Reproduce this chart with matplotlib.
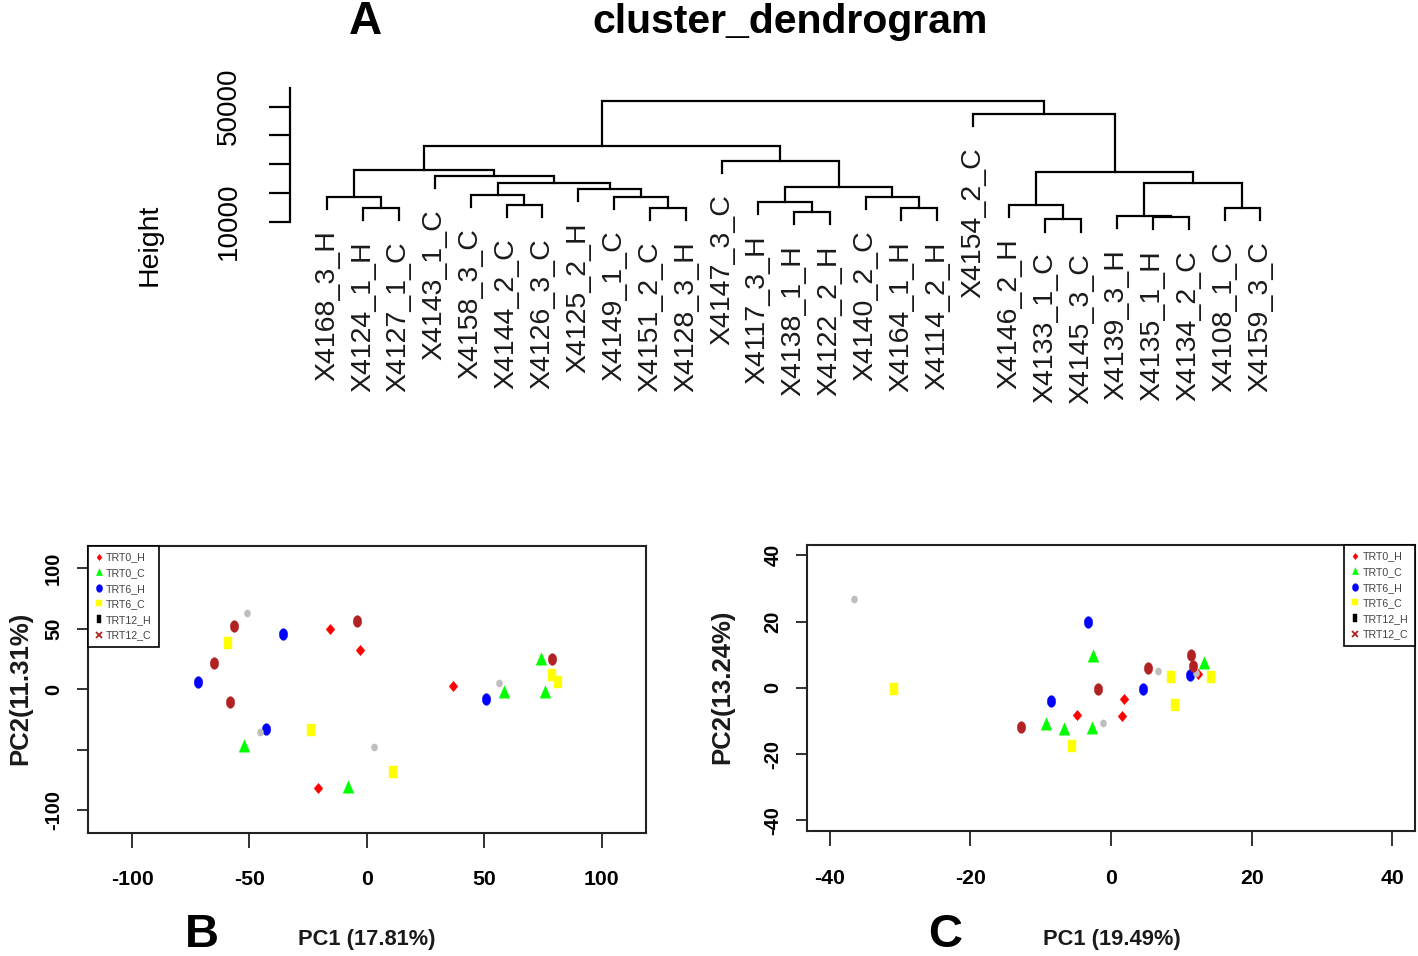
import numpy as np
import matplotlib
matplotlib.use('Agg')
import matplotlib.pyplot as plt
from matplotlib import font_manager as fm
from matplotlib.path import Path
from matplotlib.lines import Line2D
from matplotlib.transforms import offset_copy

# ---------------- dendrogram data ----------------
leaf_labels = ["X4168_3_H", "X4124_1_H", "X4127_1_C", "X4143_1_C", "X4158_3_C",
               "X4144_2_C", "X4126_3_C", "X4125_2_H", "X4149_1_C", "X4151_2_C",
               "X4128_3_H", "X4147_3_C", "X4117_3_H", "X4138_1_H", "X4122_2_H",
               "X4140_2_C", "X4164_1_H", "X4114_2_H", "X4154_2_C", "X4146_2_H",
               "X4133_1_C", "X4145_3_C", "X4139_3_H", "X4135_1_H", "X4134_2_C",
               "X4108_1_C", "X4159_3_C"]
# R hclust-style merges: negative = leaf (1-based position), positive = earlier merge
merge_left = [-2, -6, -10, -14, -17, -21, -24, -23, -26,
              -1, -5, -9, -8, 11, -4, 10,
              -13, -16, 17, -12, 16,
              -20, 8, 22, -19, 21]
merge_right = [-3, -7, -11, -15, -18, -22, -25, 7, -27,
               1, 2, 3, 12, 13, 14, 15,
               4, 5, 18, 19, 20,
               6, 9, 23, 24, 25]
merge_height = [14765, 15808, 14765, 13374, 14765, 10835, 11739, 12087, 14765,
                18591, 19287, 18591, 21373, 23460, 25895, 27981,
                16852, 18591, 21964, 31111, 36328,
                15808, 23460, 27390, 47458, 51980]
hang_height = 4300
height_ticks = [10000, 20000, 30000, 40000, 50000]
height_ticklabels = ["10000", "", "", "", "50000"]

# ---------------- PCA data ----------------
groups = ["TRT0_H", "TRT0_C", "TRT6_H", "TRT6_C", "TRT12_H", "TRT12_C"]

b_trt0_h_x = [-15.7, -2.8, -20.7, 36.7]
b_trt0_h_y = [49.7, 32.8, -81.6, 2.7]
b_trt0_c_x = [-52.2, -8.2, 58.5, 74.0, 76.0]
b_trt0_c_y = [-47.0, -80.8, -2.0, 24.9, -2.2]
b_trt6_h_x = [-35.8, -72.0, -42.8, 50.6]
b_trt6_h_y = [45.9, 6.3, -32.7, -8.0]
b_trt6_c_x = [-59.1, -24.0, 11.0, 78.8, 81.5]
b_trt6_c_y = [38.6, -34.0, -68.3, 11.9, 6.3]
b_trt12_h_x = [-50.9, -45.4, 2.9, 56.3]
b_trt12_h_y = [63.0, -35.4, -47.6, 5.5]
b_trt12_c_x = [-56.6, -4.2, -65.2, -58.5, 79.0]
b_trt12_c_y = [52.5, 56.6, 22.1, -10.8, 24.9]

c_trt0_h_x = [-4.8, 1.8, 1.5, 12.3]
c_trt0_h_y = [-8.2, -3.4, -8.5, 4.3]
c_trt0_c_x = [-2.6, -9.3, -6.7, -2.7, 13.2]
c_trt0_c_y = [9.6, -10.9, -12.5, -12.1, 7.4]
c_trt6_h_x = [-3.3, -8.6, 4.5, 11.2]
c_trt6_h_y = [19.8, -4.0, -0.3, 3.9]
c_trt6_c_x = [-30.9, -5.5, 8.5, 9.1, 14.2]
c_trt6_c_y = [-0.3, -17.5, 3.2, -5.2, 3.2]
c_trt12_h_x = [-36.6, -1.1, 6.7, 12.1]
c_trt12_h_y = [26.9, -10.7, 5.1, 4.6]
c_trt12_c_x = [-1.8, -12.8, 5.3, 11.3, 11.6]
c_trt12_c_y = [-0.2, -11.7, 6.1, 9.8, 6.5]

b_ticks = [-100, -50, 0, 50, 100]
b_yticklabels = ["-100", "", "0", "50", "100"]
c_ticks = [-40, -20, 0, 20, 40]
c_yticklabels = ["-40", "-20", "0", "20", "40"]

# ---------------- figure ----------------
W, H = 1418, 956
fig = plt.figure(figsize=(W / 100, H / 100), dpi=100)
fig.patch.set_facecolor('white')


def fx(px):
    return px / W


def fy(py):
    return 1 - py / H


names = {f.name for f in fm.fontManager.ttflist}
SANS = 'Liberation Sans' if 'Liberation Sans' in names else 'DejaVu Sans'
NARROW = 'Liberation Sans Narrow' if 'Liberation Sans Narrow' in names else SANS
NS = 1.0 if NARROW != SANS else 0.9

# ---------- dendrogram ----------
axd = fig.add_axes([fx(290), fy(240), (1300 - 290) / W, (240 - 60) / H])
axd.set_xlim((290 - 327) / 35.9, (1300 - 327) / 35.9)
axd.set_ylim(3635, 66240)
axd.patch.set_alpha(0)

node_x, node_h, leaf_bottom = {}, {}, {}
for i in range(len(leaf_labels)):
    node_x[-(i + 1)] = float(i)
for k, (l, r, h) in enumerate(zip(merge_left, merge_right, merge_height), start=1):
    xs, bs = [], []
    for c in (l, r):
        xs.append(node_x[c])
        if c < 0:
            b = h - hang_height
            leaf_bottom[-c - 1] = b
        else:
            b = node_h[c]
        bs.append(b)
    axd.plot([xs[0], xs[0], xs[1], xs[1]], [bs[0], h, h, bs[1]],
             color='black', lw=1.6, solid_joinstyle='miter', clip_on=False)
    node_x[k] = (xs[0] + xs[1]) / 2
    node_h[k] = h

lab_trans = offset_copy(axd.transData, fig=fig, x=0, y=-21, units='dots')
for i, lab in enumerate(leaf_labels):
    axd.text(i, leaf_bottom[i], lab, rotation=90, ha='center', va='top',
             transform=lab_trans, fontsize=20.5, family=SANS, color='#1a1a1a',
             clip_on=False)

for s in ['top', 'right', 'bottom']:
    axd.spines[s].set_visible(False)
axd.spines['left'].set_bounds(10000, 56400)
axd.spines['left'].set_linewidth(1.6)
axd.set_xticks([])
axd.set_yticks(height_ticks)
axd.set_yticklabels(height_ticklabels, rotation=90, va='center', fontsize=20,
                    family=SANS)
axd.tick_params(axis='y', length=15, width=1.6, pad=20)

fig.text(fx(150), fy(245), 'Height', rotation=90, ha='center', va='center',
         fontsize=20.5, family=SANS)
fig.text(fx(790), fy(22), 'cluster_dendrogram', ha='center', va='center',
         fontsize=29.5, weight='bold', family=SANS)
fig.text(fx(365), fy(22), 'A', ha='center', va='center', fontsize=33,
         weight='bold', family=SANS)


# ---------- markers ----------
def ellipse(rx):
    t = np.linspace(0, 2 * np.pi, 48)
    return Path(np.column_stack([rx * np.cos(t), np.sin(t)]), closed=True)


def rect(hw):
    return Path([(-hw, -1), (hw, -1), (hw, 1), (-hw, 1), (-hw, -1)], closed=True)


def diamond(hw):
    return Path([(0, -1), (hw, 0), (0, 1), (-hw, 0), (0, -1)], closed=True)


tri = Path([(-0.8, -0.85), (0.8, -0.85), (0, 1), (-0.8, -0.85)], closed=True)

colors = ['#FF0000', '#00FF00', '#0000FF', '#FFFF00', '#BEBEBE', '#B22222']
markers = [diamond(0.85), tri, ellipse(0.72), rect(0.66), ellipse(0.85), ellipse(0.72)]
msizes = [7.4, 9.6, 8.4, 9.2, 5.2, 8.4]

leg_colors = ['#FF0000', '#00FF00', '#0000FF', '#FFFF00', 'black', '#B22222']
leg_markers = [diamond(0.8), tri, ellipse(0.8), rect(0.8), rect(0.6), 'x']
leg_sizes = [4.5, 5.5, 5.5, 5.0, 5.5, 5.0]


def panel(rect_px, lim, ticks, ylabels, xs_list, ys_list, loc,
          xlab, xlab_pos, ylab, ylab_pos, letter, letter_pos):
    l, t, r, b = rect_px
    ax = fig.add_axes([fx(l), fy(b), (r - l) / W, (b - t) / H])
    for xs, ys, c, m, s in zip(xs_list, ys_list, colors, markers, msizes):
        ax.plot(xs, ys, linestyle='none', marker=m, markersize=s,
                markerfacecolor=c, markeredgecolor=c, markeredgewidth=0.3)
    pad = lim * 0.08
    ax.set_xlim(-lim - pad, lim + pad)
    ax.set_ylim(-lim - pad, lim + pad)
    for sp in ax.spines.values():
        sp.set_linewidth(1.5)
        sp.set_color('#222222')
    ax.set_xticks(ticks)
    ax.set_xticklabels([str(v) for v in ticks], fontsize=17 * NS,
                       family=NARROW, weight='bold')
    ax.set_yticks(ticks)
    ax.set_yticklabels(ylabels, rotation=90, va='center', fontsize=14.5,
                       family=SANS, weight='bold')
    ax.tick_params(axis='x', length=11, width=1.3, pad=16, color='#222222')
    ax.tick_params(axis='y', length=8, width=1.3, pad=10, color='#222222')

    handles = [Line2D([], [], linestyle='none', marker=m, markersize=s,
                      markerfacecolor=c, markeredgecolor=c,
                      markeredgewidth=1.3 if m == 'x' else 0.3)
               for c, m, s in zip(leg_colors, leg_markers, leg_sizes)]
    leg = ax.legend(handles, groups, loc=loc, borderaxespad=0, frameon=True,
                    fancybox=False, edgecolor='black', framealpha=1,
                    prop=dict(family=NARROW, size=8.5 * NS), labelcolor='#444444',
                    handlelength=0.8, handletextpad=0.25, labelspacing=0.52,
                    borderpad=0.65)
    leg.get_frame().set_linewidth(1.2)

    fig.text(fx(xlab_pos[0]), fy(xlab_pos[1]), xlab, ha='center', va='center',
             fontsize=17.5 * NS, family=NARROW, weight='bold', color='#1a1a1a')
    fig.text(fx(ylab_pos[0]), fy(ylab_pos[1]), ylab, ha='center', va='center',
             rotation=90, fontsize=18.5, family=SANS, weight='bold', color='#1a1a1a')
    fig.text(fx(letter_pos[0]), fy(letter_pos[1]), letter, ha='center',
             va='center', fontsize=34, family=SANS, weight='bold')
    return ax


panel((88, 545.7, 645.7, 832.7), 110, b_ticks, b_yticklabels,
      [b_trt0_h_x, b_trt0_c_x, b_trt6_h_x, b_trt6_c_x, b_trt12_h_x, b_trt12_c_x],
      [b_trt0_h_y, b_trt0_c_y, b_trt6_h_y, b_trt6_c_y, b_trt12_h_y, b_trt12_c_y],
      'upper left', 'PC1 (17.81%)', (367, 940), 'PC2(11.31%)', (20, 688),
      'B', (202, 935))

panel((807.3, 544.7, 1415, 831), 40, c_ticks, c_yticklabels,
      [c_trt0_h_x, c_trt0_c_x, c_trt6_h_x, c_trt6_c_x, c_trt12_h_x, c_trt12_c_x],
      [c_trt0_h_y, c_trt0_c_y, c_trt6_h_y, c_trt6_c_y, c_trt12_h_y, c_trt12_c_y],
      'upper right', 'PC1 (19.49%)', (1112, 940), 'PC2(13.24%)', (722, 687),
      'C', (945, 935))

fig.savefig('out.png', dpi=100, facecolor='white')
